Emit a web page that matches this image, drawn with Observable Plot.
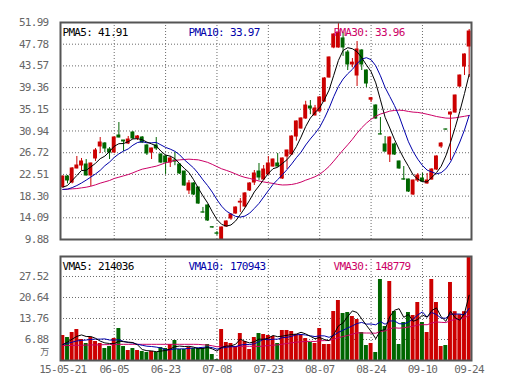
<!DOCTYPE html>
<html><head><meta charset="utf-8">
<script src="https://cdn.jsdelivr.net/npm/d3@7"></script>
<script src="https://cdn.jsdelivr.net/npm/@observablehq/plot@0.6"></script>
<style>
html,body{margin:0;padding:0;background:#fff;}
#chart{position:relative;width:520px;height:390px;overflow:hidden;background:#fff;}
#chart svg{position:absolute;left:0;display:block;}
#chart svg text{letter-spacing:-0.7px;}
</style></head><body><div id="chart"></div>
<script>
// ---- data ----
const dateLabels = ["15-05-21","06-05","06-23","07-08","07-23","08-07","08-24","09-10","09-24"];
const dateIdx    = [0, 11, 22, 33, 44, 55, 66, 77, 87];
const gridIdx    = [11, 22, 33, 44, 55, 66, 77];
const priceTicks = [9.88, 14.09, 18.30, 22.51, 26.72, 30.94, 35.15, 39.36, 43.57, 47.78, 51.99];
const volTicks   = [6.88, 13.76, 20.64, 27.52];

const open  = [20.03,22.10,20.94,23.66,24.24,24.43,22.30,25.60,27.93,28.51,27.35,26.76,30.06,29.09,28.51,30.64,29.48,29.67,28.12,26.76,28.12,26.37,26.0,24.82,25.2,24.43,23.07,19.39,20.75,19.97,15.15,16.48,12.27,11.07,9.95,12.40,13.95,14.92,17.05,16.28,19.39,20.94,23.07,21.52,22.49,24.04,24.63,21.72,25.99,26.37,29.86,31.42,33.36,35.69,33.94,34.72,36.66,41.31,47.14,47.14,48.9,46.17,43.84,41.70,46.56,42.67,37.0,35.88,30.3,28.32,26.37,28.32,25.02,21.57,21.52,18.61,21.33,21.72,20.75,21.52,23.46,27.92,31.24,34.13,34.52,39.57,43.45,47.33];
const high  = [22.2,22.3,23.85,25.99,25.60,25.40,24.7,27.54,29.67,28.7,27.73,29.8,32.58,29.1,29.87,30.8,30.06,29.87,28.3,27.6,29.67,26.5,26.1,25.99,26.76,24.6,23.1,21.33,20.9,20.0,16.1,16.6,12.3,11.43,12.3,13.5,14.8,16.2,17.84,19.0,20.9,23.27,24.63,24.24,25.98,25.5,26.57,25.7,27.2,30.0,32.9,33.5,36.7,36.85,35.9,37.6,41.3,45.3,49.8,51.99,50.05,46.56,45.0,48.3,46.7,42.8,37.44,36.0,33.55,29.87,29.8,28.6,25.1,24.04,21.6,21.4,22.69,22.69,22.69,23.6,26.1,28.7,31.3,34.6,37.9,41.8,45.9,50.63];
const low   = [19.9,20.68,20.68,23.6,23.27,22.2,20.16,25.02,26.57,26.76,25.40,26.6,29.6,26.96,28.3,29.3,29.09,28.5,26.18,25.40,27.15,24.6,22.5,23.85,24.2,22.5,20.2,18.61,18.4,16.7,15.0,13.4,12.1,10.65,9.88,12.3,13.6,14.8,15.12,16.0,19.2,20.36,21.33,21.4,22.4,23.9,23.9,21.52,23.46,26.2,28.96,31.3,33.2,34.1,33.9,34.6,36.5,41.2,46.9,47.0,45.4,42.67,43.2,39.57,42.67,39.38,36.47,33.2,30.2,26.8,24.82,26.2,23.5,21.4,19.0,18.4,20.94,20.94,20.6,21.4,23.3,27.54,31.1,25.2,34.4,39.38,41.7,41.31];
const close = [22.10,21.33,23.66,24.24,25.02,22.30,24.63,27.15,28.70,27.54,26.76,29.67,29.67,28.9,29.28,29.48,29.87,28.70,26.57,27.54,27.54,24.82,24.82,25.60,25.0,22.69,20.36,20.75,18.61,16.86,15.1,13.57,12.2,11.0,12.21,13.37,14.73,16.09,17.2,18.81,20.75,22.69,21.91,23.46,24.63,25.40,24.04,25.6,27.15,29.86,32.78,33.36,35.88,35.30,35.30,37.44,41.12,45.2,49.66,50.05,47.14,43.84,44.2,46.75,43.84,40.15,37.3,33.36,30.25,26.95,29.67,26.37,23.66,21.5,19.19,21.33,22.30,21.13,21.33,23.46,25.99,28.5,31.2,34.52,37.82,41.70,45.78,50.24];

const ma5  = [20.03,20.36,21.33,22.30,23.27,23.31,23.97,24.67,25.56,26.06,26.96,27.96,28.47,28.51,28.86,29.40,29.44,29.25,28.78,28.43,28.04,27.03,26.26,26.06,25.56,24.59,23.69,22.88,21.48,19.85,18.34,16.98,15.27,13.75,12.82,12.47,12.70,13.48,14.72,16.04,17.52,19.11,20.27,21.52,22.69,23.62,23.89,24.63,25.36,26.41,27.89,29.75,31.81,33.44,34.52,35.46,37.01,38.87,41.74,44.62,46.56,47.10,46.90,46.32,45.15,43.76,42.45,40.28,36.98,33.60,31.51,29.32,27.38,25.63,24.08,22.41,21.60,21.09,21.06,21.91,22.84,24.08,26.10,28.73,31.61,34.75,38.20,41.91];
const ma10 = [19.6,19.65,19.95,20.35,20.85,21.4,22.0,22.6,23.3,24.2,24.9,25.8,26.5,27.03,27.46,28.18,28.70,28.86,28.64,28.64,28.72,28.24,27.75,27.42,26.99,26.32,25.36,24.57,23.77,22.71,21.46,20.34,19.07,17.61,16.34,15.40,14.84,14.37,14.23,14.43,14.99,15.91,16.88,18.12,19.36,20.57,21.50,22.45,23.44,24.55,25.75,26.82,28.22,29.40,30.47,31.67,33.38,35.34,37.59,39.57,41.01,42.05,42.89,44.03,44.89,45.16,44.77,43.59,41.65,39.38,37.63,35.88,33.83,31.31,28.84,26.96,25.46,24.24,23.34,22.99,22.63,22.84,23.59,24.90,26.76,28.80,31.14,33.97];
const ma30 = [19.58,19.65,19.71,19.77,19.90,20.03,20.22,20.49,20.81,21.07,21.33,21.72,21.97,22.23,22.49,22.82,23.20,23.53,23.72,23.92,24.11,24.43,24.76,25.0,25.21,25.34,25.40,25.47,25.40,25.34,25.11,24.85,24.46,24.02,23.60,23.30,22.97,22.60,22.22,21.93,21.73,21.49,21.23,21.05,20.90,20.76,20.57,20.46,20.48,20.56,20.74,21.02,21.39,21.71,22.06,22.55,23.24,24.05,25.09,26.18,27.25,28.26,29.33,30.52,31.57,32.46,33.22,33.79,34.23,34.50,34.80,34.92,34.98,34.91,34.73,34.60,34.54,34.39,34.19,33.98,33.75,33.59,33.44,33.41,33.49,33.64,33.79,33.96];

// volume in units of 10,000 (万)
const volume = [8.19,7.53,9.17,10.15,6.88,5.57,7.53,6.22,5.57,3.93,4.58,7.21,10.48,4.58,3.27,3.93,3.27,2.95,2.62,2.95,2.62,4.26,3.93,5.24,6.55,3.60,3.60,4.26,3.93,3.93,3.93,5.24,1.96,0.33,10.15,5.90,5.57,4.58,8.84,6.22,3.60,7.53,8.84,8.52,8.19,7.86,5.57,9.83,9.83,9.50,8.52,8.5,7.2,5.90,5.57,10.48,5.24,5.24,16.05,19.66,15.40,15.72,14.41,13.43,9.17,4.91,5.57,2.62,26.54,11.14,25.88,16.05,5.24,12.45,15.72,14.74,19.0,12.45,9.17,26.54,19.0,4.58,4.91,25.56,16.0,15.0,16.0,34.07];
const vma5  = [5.2,6.0,7.0,7.9,8.38,7.86,7.86,7.27,6.35,5.76,5.57,5.50,6.35,6.16,6.02,5.89,5.11,3.60,3.21,3.14,2.88,3.08,3.28,3.80,4.52,4.72,4.58,4.65,4.39,3.86,3.93,4.26,3.80,3.08,4.32,4.72,4.78,5.31,7.01,6.22,5.76,6.15,7.01,6.94,7.34,8.19,7.80,7.99,8.26,8.52,8.65,9.24,8.71,7.92,7.14,7.53,6.88,6.49,8.52,11.33,12.32,14.41,16.25,15.72,13.63,11.53,9.50,7.14,9.76,10.16,14.35,16.45,16.97,14.15,15.07,12.84,13.43,14.87,14.22,16.38,17.23,14.35,12.84,16.12,14.01,13.21,15.49,21.40];
const vma10 = [5.3,5.6,6.0,6.4,6.6,6.7,6.9,7.0,7.0,7.07,6.71,6.68,6.81,6.26,5.89,5.73,5.30,4.98,4.68,4.58,4.39,4.09,3.44,3.50,3.83,3.80,3.83,3.96,4.09,4.19,4.32,4.42,4.22,3.73,4.09,4.32,4.52,4.55,5.04,5.27,5.24,5.47,6.16,6.98,6.78,6.98,6.98,7.50,7.60,7.93,8.42,8.52,8.35,8.09,7.83,8.09,8.06,7.60,8.22,9.24,9.92,10.65,11.37,12.12,12.48,11.92,11.96,11.69,12.74,11.89,12.94,12.97,12.06,11.96,12.61,13.60,14.94,15.92,14.18,15.72,15.04,13.89,13.86,15.17,15.20,15.22,14.92,17.09];
const vma30 = [4.9,4.9,4.95,5.0,5.0,5.05,5.1,5.1,5.15,5.2,5.2,5.25,5.3,5.3,5.3,5.3,5.3,5.3,5.3,5.3,5.3,5.3,5.3,5.3,5.3,5.3,5.3,5.3,5.3,5.28,5.14,5.07,4.82,4.50,4.61,4.62,4.55,4.50,4.61,4.68,4.65,4.66,4.61,4.74,4.90,5.03,5.11,5.34,5.58,5.80,5.99,6.14,6.24,6.27,6.23,6.46,6.52,6.55,6.95,7.48,7.86,8.21,8.63,9.06,9.03,9.00,9.00,8.93,9.52,9.68,10.43,10.71,10.59,10.72,10.97,11.20,11.65,11.74,11.72,12.28,12.63,12.50,12.43,13.08,13.43,13.58,13.94,14.88];

const priceLabels = [["PMA5", 41.91], ["PMA10", 33.97], ["PMA30", 33.96]];
const volLabels   = [["VMA5", 214036], ["VMA10", 170943], ["VMA30", 148779]];

// ---- drawing ----
const RED = "#cc0000", GREEN = "#006600", BLUE = "#0000aa", MAG = "#cc0066", GRID = "#6a6a6a";
const idx = d3.range(close.length);
const bars = idx.map(i => ({i, o: open[i], h: high[i], l: low[i], c: close[i], v: volume[i], col: close[i] >= open[i] ? RED : GREEN}));
const HW = 0.42;
const baseStyle = {fontFamily: "'DejaVu Sans Mono', monospace", fontSize: "11px", color: "#666", background: "transparent", overflow: "visible"};
const xOpts = {type: "linear", domain: [-0.5, close.length - 0.5]};
const lineColors = ["#000", BLUE, MAG];
const labelDx = [2, 128, 273];

function labelMarks(list, fmt) {
  return list.map(([name, val], k) => Plot.text([`${name}: ${fmt(val)}`], {
    text: d => d, frameAnchor: "top-left", dx: labelDx[k], dy: 6, lineAnchor: "top",
    textAnchor: "start", fill: lineColors[k], fontSize: 11
  }));
}

const priceChart = Plot.plot({
  width: 520, height: 248, marginTop: 22, marginBottom: 9, marginLeft: 60, marginRight: 49,
  style: baseStyle,
  x: {...xOpts, axis: null},
  y: {domain: [priceTicks[0], priceTicks[priceTicks.length - 1]], ticks: priceTicks, tickFormat: d => d.toFixed(2), tickSize: 0, tickPadding: 12, label: null},
  color: {type: "identity"},
  marks: [
    Plot.ruleY(priceTicks, {stroke: GRID, strokeDasharray: "1,2"}),
    Plot.ruleX(gridIdx, {stroke: GRID, strokeDasharray: "1,2"}),
    Plot.ruleX(bars, {x: "i", y1: "l", y2: "h", stroke: "col", strokeWidth: 1}),
    Plot.rect(bars, {x1: d => d.i - HW, x2: d => d.i + HW, y1: "o", y2: "c", fill: "col", insetTop: -0.5, insetBottom: -0.5}),
    Plot.line(idx, {x: i => i, y: i => ma30[i], stroke: MAG, strokeWidth: 1}),
    Plot.line(idx, {x: i => i, y: i => ma10[i], stroke: BLUE, strokeWidth: 1}),
    Plot.line(idx, {x: i => i, y: i => ma5[i], stroke: "#000", strokeWidth: 1}),
    Plot.frame({stroke: "#555", strokeWidth: 2}),
    ...labelMarks(priceLabels, v => v.toFixed(2))
  ]
});

const volChart = Plot.plot({
  width: 520, height: 142, marginTop: 8, marginBottom: 30, marginLeft: 60, marginRight: 49,
  style: baseStyle,
  x: {...xOpts, ticks: dateIdx, tickFormat: d => dateLabels[dateIdx.indexOf(d)], tickSize: 0, tickPadding: 5, label: null},
  y: {domain: [0, d3.max(volume)], ticks: volTicks, tickFormat: d => d.toFixed(2), tickSize: 0, tickPadding: 12, label: null},
  color: {type: "identity"},
  marks: [
    Plot.ruleY(volTicks, {stroke: GRID, strokeDasharray: "1,2"}),
    Plot.ruleX(gridIdx, {stroke: GRID, strokeDasharray: "1,2"}),
    Plot.rectY(bars, {x1: d => d.i - HW, x2: d => d.i + HW, y: "v", fill: "col"}),
    Plot.line(idx, {x: i => i, y: i => vma30[i], stroke: MAG, strokeWidth: 1}),
    Plot.line(idx, {x: i => i, y: i => vma10[i], stroke: BLUE, strokeWidth: 1}),
    Plot.line(idx, {x: i => i, y: i => vma5[i], stroke: "#000", strokeWidth: 1}),
    Plot.frame({stroke: "#555", strokeWidth: 2}),
    Plot.text(["万"], {text: d => d, frameAnchor: "bottom-left", dx: -12, dy: -6, textAnchor: "end", fill: "#666", fontSize: 9, fontFamily: "'Noto Sans CJK SC', sans-serif"}),
    ...labelMarks(volLabels, v => String(v))
  ]
});

const root = document.getElementById("chart");
priceChart.style.top = "0px";
volChart.style.top = "248px";
root.appendChild(priceChart);
root.appendChild(volChart);
</script></body></html>
